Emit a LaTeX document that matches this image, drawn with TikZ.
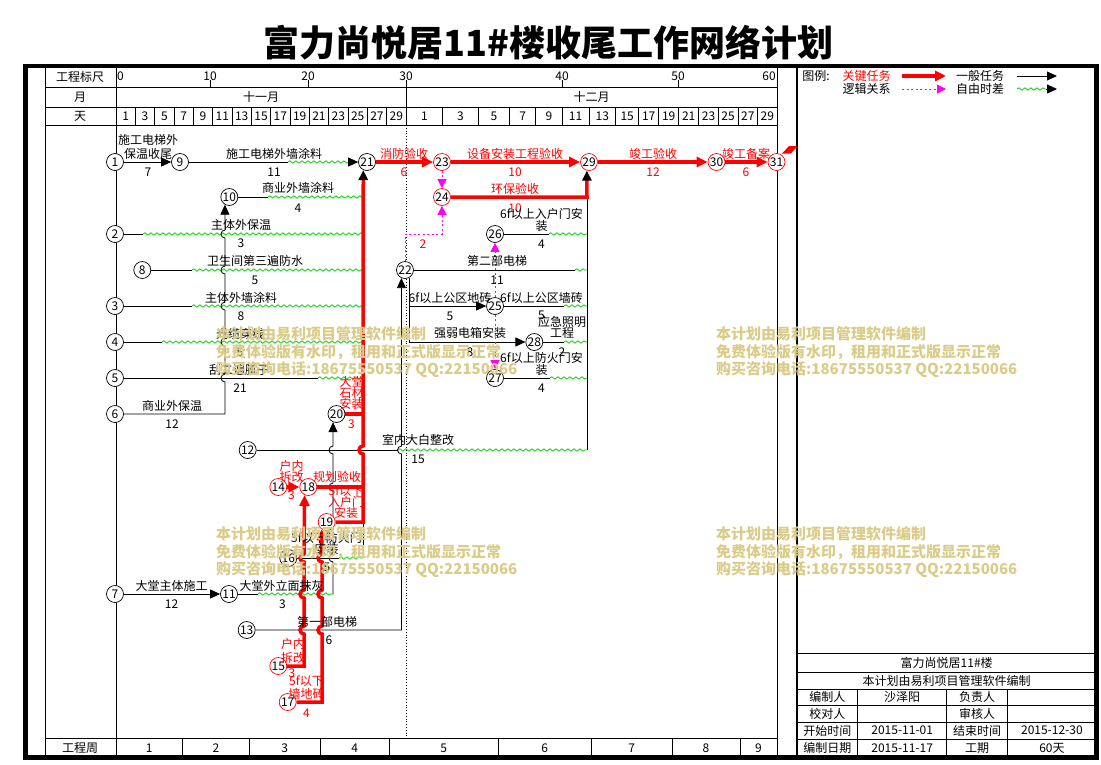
\documentclass[tikz,border=0pt]{standalone}
\usepackage{fontspec}
\setmainfont{Noto Sans CJK SC}
\usetikzlibrary{arrows.meta,decorations.pathmorphing}
\pgfdeclarelayer{back}
\pgfsetlayers{back,main}
\definecolor{critred}{RGB}{255,0,0}
\definecolor{slackgreen}{RGB}{0,215,0}
\definecolor{logicpink}{RGB}{255,0,255}
\definecolor{stampkhaki}{RGB}{218,204,136}

\begin{document}
\begin{tikzpicture}[x=1pt,y=-1pt,
    nd/.style={circle,draw,fill=white,minimum size=17pt,inner sep=0pt,line width=0.7pt,font=\fontsize{12pt}{12pt}\selectfont},
    cnd/.style={nd,draw=critred},
    lbl/.style={inner sep=0pt,align=center,font=\fontsize{12pt}{12pt}\selectfont},
    rlbl/.style={lbl,text=critred},
    work/.style={line width=0.8pt},
    crit/.style={critred,line width=3.5pt},
    slack/.style={slackgreen,line width=0.8pt,decorate,decoration={snake,amplitude=1.2pt,segment length=6pt}},
    logic/.style={logicpink,line width=0.9pt,dash pattern=on 2pt off 2.5pt},
    btip/.style={-{Triangle[length=10pt,width=9pt,color=black]}},
    rtip/.style={-{Triangle[length=11pt,width=10pt]}},
    ptip/.style={-{Triangle[length=9pt,width=9pt]}},
    stamp/.style={anchor=west,inner sep=0pt,align=left,text=stampkhaki,font=\fontsize{15pt}{17.5pt}\selectfont\bfseries}]
\useasboundingbox (0,0) rectangle (1101,764);

\node[inner sep=0pt,font=\fontsize{36pt}{36pt}\selectfont\bfseries] (title) at (548.5,43) {富力尚悦居11\#楼收尾工作网络计划};

% event nodes
\node[nd] (n1) at (115,162) {1};
\node[nd] (n9) at (180,162) {9};
\node[nd] (n21) at (367,162) {21};
\node[cnd] (n23) at (442,162) {23};
\node[cnd] (n29) at (589,162) {29};
\node[cnd] (n30) at (716.5,162) {30};
\node[cnd] (n31) at (776.5,162) {31};
\node[nd] (n10) at (229.3,197) {10};
\node[cnd] (n24) at (442,197) {24};
\node[nd] (n2) at (115,234) {2};
\node[nd] (n26) at (495,234) {26};
\node[nd] (n8) at (142.3,270) {8};
\node[nd] (n22) at (405,270) {22};
\node[nd] (n3) at (115,306) {3};
\node[nd] (n25) at (495,306) {25};
\node[nd] (n4) at (115,342) {4};
\node[nd] (n28) at (534.3,342) {28};
\node[nd] (n5) at (115,378) {5};
\node[nd] (n27) at (495,378) {27};
\node[nd] (n6) at (115,414) {6};
\node[nd] (n20) at (336.5,414) {20};
\node[nd] (n12) at (247.7,450) {12};
\node[cnd] (n14) at (278.3,487) {14};
\node[cnd] (n18) at (308.3,487) {18};
\node[cnd] (n19) at (326.7,522) {19};
\node[nd] (n16) at (288.3,558) {16};
\node[nd] (n7) at (115,594) {7};
\node[nd] (n11) at (229,594) {11};
\node[nd] (n13) at (246.7,630) {13};
\node[cnd] (n15) at (278.3,666) {15};
\node[cnd] (n17) at (287.7,702) {17};

% break and end points of the arrows
\coordinate (b9) at (288,162);   \coordinate (e9) at (349,162);
\coordinate (b10) at (268,197);  \coordinate (e10) at (363,197);
\coordinate (b2) at (143,234);   \coordinate (e2) at (363,234);
\coordinate (b26) at (549,234);  \coordinate (e26) at (587,234);
\coordinate (b8) at (192,270);   \coordinate (e8) at (363,270);
\coordinate (b22) at (575,270);  \coordinate (e22) at (587,270);
\coordinate (b3) at (192,306);   \coordinate (e3) at (363,306);
\coordinate (b25) at (564,306);  \coordinate (e25) at (587,306);
\coordinate (b4) at (162,342);   \coordinate (e4) at (363,342);
\coordinate (b28) at (564,342);  \coordinate (e28) at (587,342);
\coordinate (b5) at (318,378);   \coordinate (e5) at (363,378);
\coordinate (b27) at (550,378);  \coordinate (e27) at (587,378);
\coordinate (b12) at (398,450);  \coordinate (e12) at (587,450);
\coordinate (b16) at (339,558);  \coordinate (e16) at (363,558);
\coordinate (b11) at (258,594);  \coordinate (e11) at (333,594);
\coordinate (e24) at (587,197);
\coordinate (e20) at (363,414);
\coordinate (e18) at (363,487);
\coordinate (e19) at (363,522);
\coordinate (e13) at (401.5,630);
\coordinate (c6) at (225,414);
\coordinate (c15) at (304,666);
\coordinate (c17) at (322,702);
\coordinate (c24) at (442,234);

% activity labels
\node[lbl] (t1) at (148,147) {施工电梯外\\[2pt]保温收尾};
\node[lbl] (d1) at (148,172) {7};
\node[lbl] (t9) at (274,154) {施工电梯外墙涂料};
\node[lbl] (d9) at (274,172) {11};
\node[rlbl] (t21) at (404,154) {消防验收};
\node[rlbl] (d21) at (404,172) {6};
\node[rlbl] (t23) at (515,154) {设备安装工程验收};
\node[rlbl] (d23) at (515,172) {10};
\node[rlbl] (t29) at (653,154) {竣工验收};
\node[rlbl] (d29) at (653,172) {12};
\node[rlbl] (t30) at (746,154) {竣工备案};
\node[rlbl] (d30) at (746,172) {6};
\node[lbl] (t10) at (298,188) {商业外墙涂料};
\node[lbl] (d10) at (298,208) {4};
\node[rlbl] (t24) at (515,189) {环保验收};
\node[rlbl] (d24) at (515,208) {10};
\node[lbl] (t2) at (241,225) {主体外保温};
\node[lbl] (d2) at (241,243) {3};
\node[rlbl] (d22) at (423,244) {2};
\node[lbl] (t26) at (541.5,220) {6f以上入户门安\\装};
\node[lbl] (d26) at (541.5,244) {4};
\node[lbl] (t8) at (255,261) {卫生间第三遍防水};
\node[lbl] (d8) at (255,280) {5};
\node[lbl] (t22) at (497,261) {第二部电梯};
\node[lbl] (dd22) at (497,280) {11};
\node[lbl] (t3) at (241,298) {主体外墙涂料};
\node[lbl] (d3) at (241,316) {8};
\node[lbl] (t22a) at (450,298) {6f以上公区地砖};
\node[lbl] (d22a) at (450,316) {5};
\node[lbl] (t25) at (541.5,298) {6f以上公区墙砖};
\node[lbl] (d25) at (541.5,315) {5};
\node[lbl] (t28) at (562,327.5) {应急照明\\[-0.5pt]工程};
\node[lbl] (d28) at (562,352) {2};
\node[lbl] (t22b) at (470,333) {强弱电箱安装};
\node[lbl] (d22b) at (470,352) {8};
\node[lbl] (t27) at (541.5,364) {6f以上防火门安\\装};
\node[lbl] (d27) at (541.5,388) {4};
\node[lbl] (t4) at (240,334) {光缆穿线};
\node[lbl] (d4) at (240,352) {5};
\node[lbl] (t5) at (239,370) {刮二遍腻子};
\node[lbl] (d5) at (240,388) {21};
\node[lbl] (t6) at (172,406) {商业外保温};
\node[lbl] (d6) at (172,424) {12};
\node[rlbl] (t20) at (351.5,392.5) {大堂\\[-1pt]石材\\[-1pt]安装};
\node[rlbl] (d20) at (351.5,424) {3};
\node[lbl] (t12) at (418,440) {室内大白整改};
\node[lbl] (d12) at (418,459) {15};
\node[rlbl] (t14) at (291.5,471.5) {户内\\[-1pt]拆改};
\node[rlbl] (d14) at (291.5,495) {3};
\node[rlbl] (t18) at (337,477) {规划验收};
\node[rlbl] (t19) at (346,502.5) {5f以下\\[-1pt]入户门\\[-1pt]安装};
\node[lbl] (t16) at (326.5,543.5) {5f以下防火门\\[-1pt]安装};
\node[lbl] (d16) at (327,567) {5};
\node[lbl] (t7) at (171.5,586) {大堂主体施工};
\node[lbl] (d7) at (171.5,604) {12};
\node[lbl] (t11) at (281.5,586) {大堂外立面抹灰};
\node[lbl] (d11) at (282.5,604) {3};
\node[lbl] (t13) at (327,622) {第一部电梯};
\node[lbl] (d13) at (329,640) {6};
\node[rlbl] (t15) at (293,651) {户内\\[2pt]拆改};
\node[rlbl] (d15) at (292,673) {3};
\node[rlbl] (t17) at (306.5,687.5) {5f以下\\[1pt]墙地砖};
\node[rlbl] (d17) at (306.5,713) {4};

\begin{pgfonlayer}{back}
% frame and time scale
\draw[line width=4.5pt] (25.5,66) rectangle (1096.5,757.5);
\draw[work] (45,66) -- (45,757.5);
\draw[work] (116,66) -- (116,757.5);
\draw[work] (777,66) -- (777,757.5);
\draw[line width=2.5pt] (797,66) -- (797,757.5);
\foreach \y in {87,107,125,738} \draw[work] (45,\y) -- (777,\y);
\draw[work] (406,80) -- (406,125);
\draw[work,dotted] (406,125) -- (406,738);
\foreach \v/\x in {10/210,20/308,40/562,50/678} \draw[work] (\x,80) -- (\x,87);
\foreach \i in {1,...,14} \draw[work] ({116+\i*19.333},107) -- ({116+\i*19.333},125);
\foreach \b in {442.7,478,509.7,535.7,562,589,615.7,638.7,658.7,678.7,698.7,718.3,738,757.7} \draw[work] (\b,107) -- (\b,125);
\foreach \b in {182.5,249.5,320,389.5,498,591.5,672,740} \draw[work] (\b,738) -- (\b,757.5);
\draw[line width=1.5pt] (797,653.5) -- (1096.5,653.5);
\foreach \y in {672,689,705.7,722,739} \draw[work] (797,\y) -- (1096.5,\y);
\foreach \x in {857.7,946.7,1007.7} \draw[work] (\x,689) -- (\x,757.5);

% ordinary work with free float
\foreach \s in {9,10,2,26,8,22,3,25,4,28,5,27,12,16,11} {
  \draw[work] (n\s) -- (b\s);
  \draw[slack] (b\s) -- (e\s);
}
\draw[work,btip] (n1) -- (n9);
\draw[work,btip] (e9) -- (n21);
\draw[work,btip] (n7) -- (n11);
\draw[work,btip] (n6) -- (c6) \foreach \yc in {378,342,306,270,234} { -- (225,{\yc+4}) arc[start angle=-90,end angle=-270,radius=4pt] } -- (n10.-120);
\draw[work,btip] (e11) \foreach \yc in {558,487,450} { -- (333,{\yc+4}) arc[start angle=-90,end angle=-270,radius=4pt] } -- (n20.-113);
\draw[work,btip] (n13) -- (e13) -- (401.5,454) arc[start angle=-90,end angle=-270,radius=4pt] -- (n22.-114);
\draw[work,btip] (n22.-62) |- (n25);
\draw[work,btip] (n22.-62) |- (n28);
\draw[work] (e12) -- (e24);
\draw[work] (e16) -- (e19);

% critical path
\draw[crit,rtip] (n21) -- (n23);
\draw[crit,rtip] (n23) -- (n29);
\draw[crit,rtip] (n29) -- (n30);
\draw[crit,rtip] (n30) -- (n31);
\draw[crit,btip] (n24) -- (e24) -- (n29.-104);
\draw[crit] (n20) -- (e20);
\draw[crit] (n18) -- (e18);
\draw[crit,rtip] (n14) -- (n18);
\draw[crit,rtip] (n15) -- (c15) \foreach \yc in {630,594,558} { -- (304,{\yc+4}) arc[start angle=-90,end angle=-270,radius=4pt] } -- (n18.-115);
\draw[crit,rtip] (n17) -- (c17) \foreach \yc in {630,594,558} { -- (322,{\yc+4}) arc[start angle=-90,end angle=-270,radius=4pt] } -- (n19.-125);
\draw[crit,btip] (n19) -- (e19) -- (363,454) arc[start angle=-90,end angle=-270,radius=4pt] -- (n21.-115);

% logic links
\draw[logic,ptip] (n23) -- (n24);
\draw[logic,ptip] (n22) |- (c24) -- (n24);
\draw[logic,ptip] (n25) -- (n26);
\draw[logic,ptip] (n25) -- (n27);
\end{pgfonlayer}

\fill[critred] (782,153.5) -- (789,146) -- (797.5,146) -- (791,153.5) -- cycle;

% scale rows
\node[lbl] (h1) at (80,77) {工程标尺};
\node[lbl] (h2) at (80,97) {月};
\node[lbl] (h3) at (80,116) {天};
\node[lbl] (h4) at (80,748) {工程周};
\node[lbl,anchor=west] (s0) at (117,76) {0};
\foreach \v/\x in {10/210,20/308,30/406,40/562,50/678} \node[lbl] (s\v) at (\x,76) {\v};
\node[lbl,anchor=east] (s60) at (776,76) {60};
\node[lbl] (mo11) at (261,97) {十一月};
\node[lbl] (mo12) at (591.5,97) {十二月};
\foreach \i [evaluate=\i as \d using int(2*\i+1)] in {0,...,14} \node[lbl] (da\i) at ({125.667+\i*19.333},116) {\d};
\foreach \a/\b/\d in {406/442.7/1,442.7/478/3,478/509.7/5,509.7/535.7/7,535.7/562/9,562/589/11,589/615.7/13,615.7/638.7/15,638.7/658.7/17,658.7/678.7/19,678.7/698.7/21,698.7/718.3/23,718.3/738/25,738/757.7/27,757.7/777/29}
  \node[lbl] (db\d) at ({(\a+\b)/2},116) {\d};
\foreach \a/\b/\w in {116/182.5/1,182.5/249.5/2,249.5/320/3,320/389.5/4,389.5/498/5,498/591.5/6,591.5/672/7,672/740/8,740/777/9}
  \node[lbl] (wk\w) at ({(\a+\b)/2},748) {\w};

% legend
\coordinate (k1) at (902,76);  \coordinate (k2) at (946,76);
\coordinate (k3) at (1017,76); \coordinate (k4) at (1057,76);
\coordinate (k5) at (902,89);  \coordinate (k6) at (946,89);
\coordinate (k7) at (1017,89); \coordinate (k8) at (1046,89); \coordinate (k9) at (1057,89);
\node[lbl] (lg0) at (816,76) {图例:};
\node[rlbl] (lg1) at (866.5,76) {关键任务};
\node[lbl] (lg2) at (980,76) {一般任务};
\node[lbl] (lg3) at (866.5,89) {逻辑关系};
\node[lbl] (lg4) at (980,89) {自由时差};
\draw[crit,rtip] (k1) -- (k2);
\draw[work,btip] (k3) -- (k4);
\draw[logic,ptip] (k5) -- (k6);
\draw[slack] (k7) -- (k8);
\draw[work,btip] (k8) -- (k9);

% title block
\node[lbl] (tb1) at (946.7,663) {富力尚悦居11\#楼};
\node[lbl] (tb2) at (946.7,680.5) {本计划由易利项目管理软件编制};
\foreach \y/\a/\b/\c/\d [count=\r] in {697.3/编制人/沙泽阳/负责人/{},714/校对人/{}/审核人/{},730.5/开始时间/2015-11-01/结束时间/2015-12-30,748/编制日期/2015-11-17/工期/60天} {
  \node[lbl] (ta\r) at (827.3,\y) {\a};
  \node[lbl] (tc\r) at (902.2,\y) {\b};
  \node[lbl] (te\r) at (977.2,\y) {\c};
  \node[lbl] (tg\r) at (1051.9,\y) {\d};
}

% trial version stamps
\foreach \wx/\wy [count=\k] in {216/352.5,716/352.5,216/552.5,716/552.5}
  \node[stamp] (wm\k) at (\wx,\wy) {本计划由易利项目管理软件编制\\免费体验版有水印，租用和正式版显示正常\\购买咨询电话:18675550537 QQ:22150066};
\end{tikzpicture}
\end{document}
